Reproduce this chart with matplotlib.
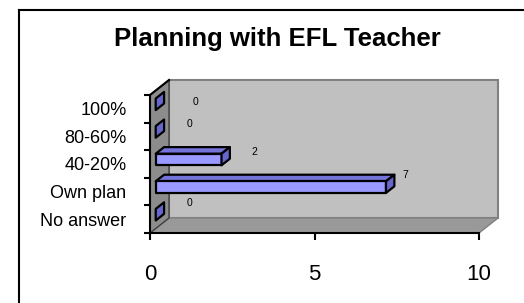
import matplotlib
matplotlib.use("Agg")
import matplotlib.pyplot as plt
from matplotlib.patches import Polygon
from matplotlib.lines import Line2D

plt.rcParams['font.family'] = ['Liberation Sans', 'DejaVu Sans']

# ---- data ----
categories = ["No answer", "Own plan", "40-20%", "80-60%", "100%"]
values = [0, 7, 2, 0, 0]
x_ticks = [0, 5, 10]
title = "Planning with EFL Teacher"

# label placement offsets (x from value, y from category centre)
label_dx = [1.19, 0.75, 1.16, 1.19, 1.37]
label_dy = [0.59, 0.60, 0.43, 0.45, 0.25]

W, H = 524, 303
fig = plt.figure(figsize=(W / 100, H / 100), dpi=100)
fig.patch.set_facecolor("white")

ax = fig.add_axes([150 / W, (H - 233) / H, 329 / W, 138 / H])
ax.set_xlim(0, 10)
ax.set_ylim(0, len(categories))
ax.patch.set_visible(False)

dx, dy = 0.578, 0.543          # 3-D depth offset
f1, f2 = 0.30, 0.74            # bar depth range
bh = 0.42                      # bar thickness
n = len(categories)
xmax = x_ticks[-1]

# walls
back = Polygon([(dx, dy), (xmax + dx, dy), (xmax + dx, n + dy), (dx, n + dy)],
               closed=True, facecolor="#c0c0c0", edgecolor="#808080", lw=1.5,
               clip_on=False, zorder=1)
floor = Polygon([(0, 0), (xmax, 0), (xmax + dx, dy), (dx, dy)],
                closed=True, facecolor="#999999", edgecolor="#808080", lw=1.0,
                clip_on=False, zorder=1)
left = Polygon([(0, 0), (0, n), (dx, n + dy), (dx, dy)],
               closed=True, facecolor="#8c8c8c", edgecolor="#404040", lw=1.0,
               clip_on=False, zorder=1.5)
for p in (back, floor, left):
    ax.add_patch(p)
ax.add_line(Line2D([0, dx], [n, n + dy], color="black", lw=1.5, clip_on=False, zorder=2))

# bars
for i, v in enumerate(values):
    c = i + 0.5
    y0, y1 = c - bh / 2, c + bh / 2
    front = [(f1 * dx, y0 + f1 * dy), (v + f1 * dx, y0 + f1 * dy),
             (v + f1 * dx, y1 + f1 * dy), (f1 * dx, y1 + f1 * dy)]
    top = [(f1 * dx, y1 + f1 * dy), (v + f1 * dx, y1 + f1 * dy),
           (v + f2 * dx, y1 + f2 * dy), (f2 * dx, y1 + f2 * dy)]
    side = [(v + f1 * dx, y0 + f1 * dy), (v + f2 * dx, y0 + f2 * dy),
            (v + f2 * dx, y1 + f2 * dy), (v + f1 * dx, y1 + f1 * dy)]
    if v > 0:
        ax.add_patch(Polygon(top, closed=True, facecolor="#7373d9", edgecolor="black",
                             lw=1.6, clip_on=False, zorder=3, joinstyle="round"))
        ax.add_patch(Polygon(front, closed=True, facecolor="#9999ff", edgecolor="black",
                             lw=1.6, clip_on=False, zorder=3, joinstyle="round"))
    ax.add_patch(Polygon(side, closed=True, facecolor="#6666cc", edgecolor="black",
                         lw=1.6, clip_on=False, zorder=3, joinstyle="round"))
    ax.text(v + label_dx[i], c + label_dy[i], str(v), fontsize=7.5,
            ha="center", va="center", zorder=4)

# axes: spines and ticks
for s in ("top", "right"):
    ax.spines[s].set_visible(False)
ax.spines["left"].set_color("black")
ax.spines["left"].set_linewidth(1.5)
ax.spines["bottom"].set_color("black")
ax.spines["bottom"].set_linewidth(1.5)
ax.spines["left"].set_zorder(2)
ax.spines["bottom"].set_zorder(2)

ax.set_xticks(x_ticks)
ax.set_xticklabels([str(t) for t in x_ticks], fontsize=16)
ax.tick_params(axis="x", length=5, width=1.5, pad=17, direction="out")

ax.set_yticks(range(n + 1))
ax.set_yticklabels([])
ax.set_yticks([i + 0.5 for i in range(n)], minor=True)
ax.set_yticklabels(categories, minor=True, fontsize=13)
ax.tick_params(axis="y", which="major", length=4, width=1.5, direction="out")
ax.tick_params(axis="y", which="minor", length=0, pad=17)

# outer frame (left and top edges)
fig.add_artist(Line2D([19 / W, 19 / W], [0, 1 - 10 / H], transform=fig.transFigure,
                      color="black", lw=1.5))
fig.add_artist(Line2D([19 / W, 1], [1 - 10 / H, 1 - 10 / H], transform=fig.transFigure,
                      color="black", lw=1.5))

fig.text(277 / W, 1 - 39 / H, title, fontsize=18.5, fontweight="bold",
         ha="center", va="center")

fig.savefig("out.png", dpi=100, facecolor="white")
